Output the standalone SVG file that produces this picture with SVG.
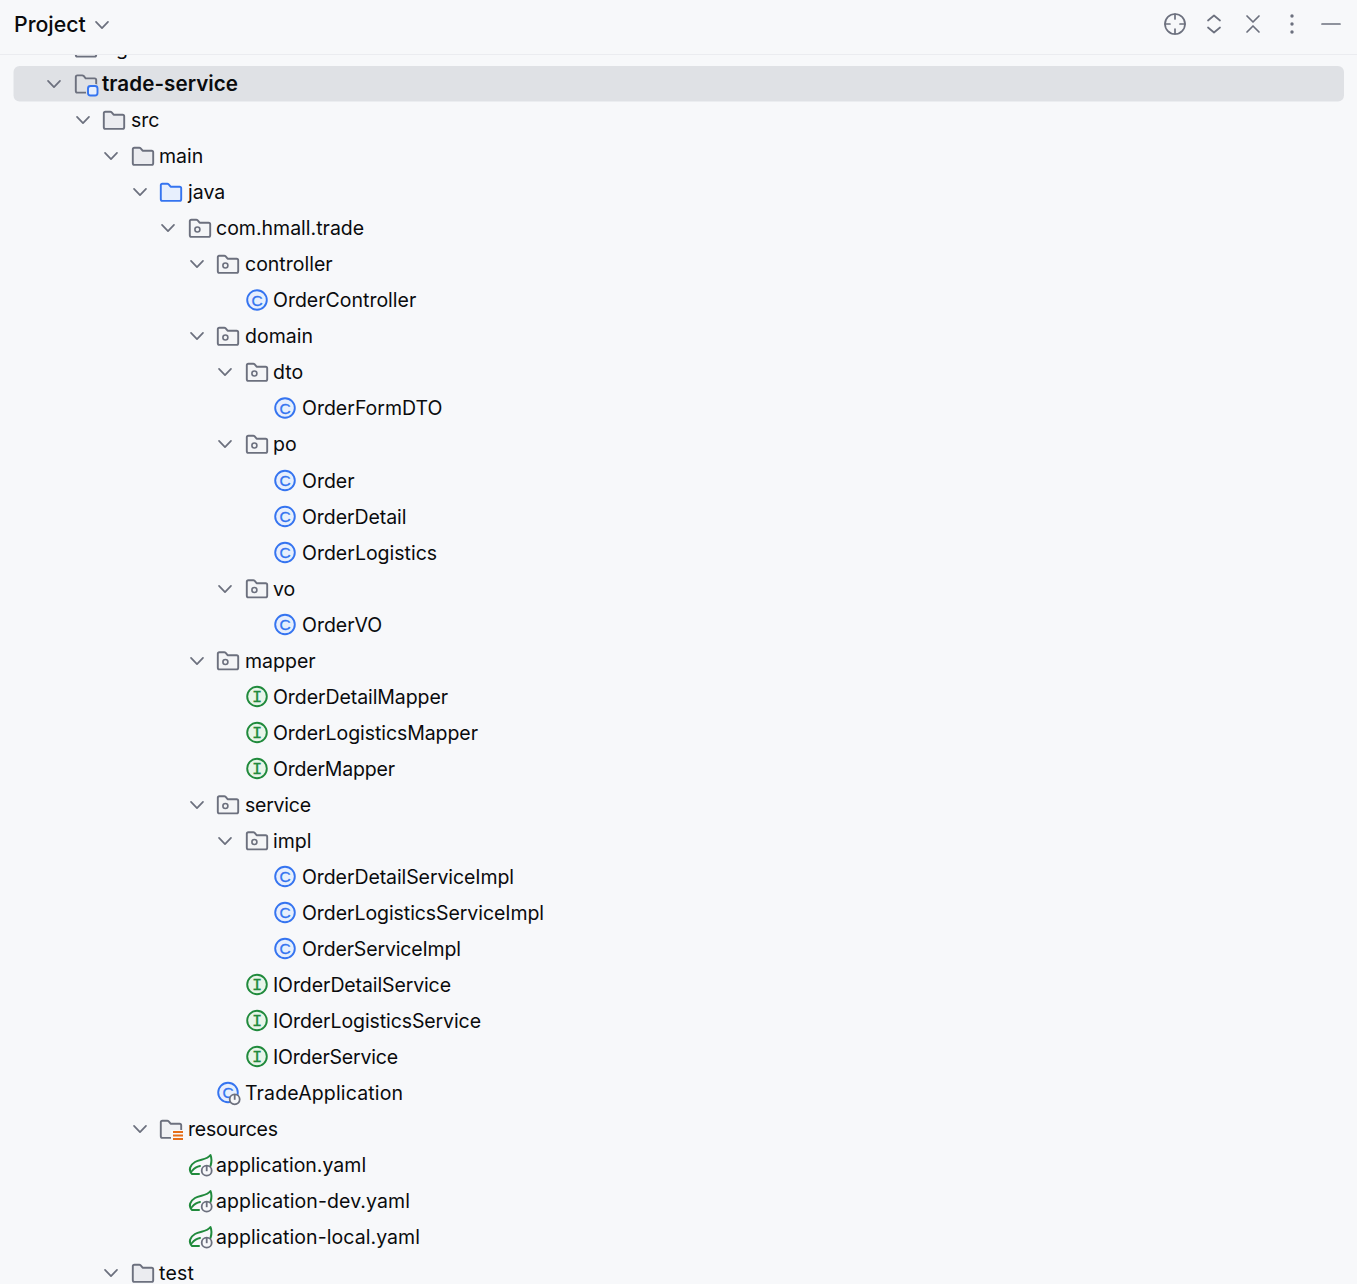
<svg xmlns="http://www.w3.org/2000/svg" xmlns:xlink="http://www.w3.org/1999/xlink" width="1357" height="1284" viewBox="0 0 1357 1284">
<style>
text{font-family:Inter,"Noto Sans","Liberation Sans",sans-serif;font-size:19.5px;fill:#0a0b0d;transform:translateY(1px)}
.ic{fill:none;stroke:#6c707e;stroke-width:1.7;stroke-linecap:round;stroke-linejoin:round}
.f{fill:#ebecf0;stroke:#6c707e;stroke-width:1.9;stroke-linejoin:round}
.b{font-family:"Liberation Sans",sans-serif;font-size:15.5px;text-anchor:middle;fill:#3574f0;stroke:#3574f0;stroke-width:.3}
.j{font-family:"Liberation Mono",monospace;font-size:17px;text-anchor:middle;fill:#208a3c;stroke:#208a3c;stroke-width:.3}
</style>
<defs>
<path id="fp" d="M-8.6,-8.6H-3.8Q-2.900,-8.600 -2.300,-8L-0.400,-5.600H8.600A1.600,1.600 0 0 1 10.200,-4V7A1.600,1.600 0 0 1 8.600,8.600H-8.600A1.600,1.600 0 0 1 -10.200,7V-7A1.600,1.600 0 0 1 -8.600,-8.600Z"/>
<path id="chev" class="ic" d="M-6,-3.2L0,3.2L6,-3.2"/>
<use id="folder" href="#fp" class="f"/>
<g id="pkg"><use href="#fp" fill="#f4f5f7" stroke="#6c707e" stroke-width="1.9" stroke-linejoin="round"/><circle cx="-2.6" cy="1.2" r="2.5" fill="none" stroke="#6c707e" stroke-width="1.6"/></g>
<g id="cls"><circle r="9.8" fill="#e7effd" stroke="#3574f0" stroke-width="1.9"/></g>
<g id="ifc"><circle r="9.8" fill="#e8f5e9" stroke="#208a3c" stroke-width="1.9"/></g>
<g id="pwr"><circle r="5" fill="#f7f8fa" stroke="#6c707e" stroke-width="1.8"/><path d="M0,-5V0.5" stroke="#6c707e" stroke-width="1.8"/></g>
<g id="spring"><path d="M-8,9C-12,5 -10,0 -5,-3C0,-6 7,-5 10.500,-10C12.500,-5 11,-1 10.500,1M-8,9H-1M-8,6C-6,3.500 -3,1.500 0,1" fill="none" stroke="#208a3c" stroke-width="2" stroke-linejoin="round" stroke-linecap="round"/><use href="#pwr" x="6.700" y="5.700"/></g>
</defs>
<rect width="1357" height="1284" fill="#f7f8fa"/>
<g id="scrolled-row"><use href="#folder" x="86" y="48"/><text x="116" y="54">g</text></g>
<g id="header">
<rect width="1357" height="54" fill="#f7f8fa"/>
<path d="M0,54.500H1357" stroke="#ebecf0" stroke-width="1"/>
<text x="14" y="30.500" style="font-weight:500;font-size:21.300px">Project</text>
<use href="#chev" x="102" y="25"/>
<g id="tb-locate" class="ic"><circle cx="1175" cy="24" r="10"/><path d="M1175,14V19M1175,29V34M1165,24H1170M1180,24H1185"/></g>
<path id="tb-expand" class="ic" d="M1208,20.500L1214,15.500L1220,20.500M1208,27.500L1214,32.500L1220,27.500"/>
<path id="tb-collapse" class="ic" d="M1247,16L1253,22L1259,16M1247,32L1253,26L1259,32"/>
<g id="tb-more" fill="#6c707e"><circle cx="1292" cy="16" r="1.700"/><circle cx="1292" cy="24" r="1.700"/><circle cx="1292" cy="32" r="1.700"/></g>
<path id="tb-min" class="ic" d="M1322,24H1340"/>
</g>
<rect id="selection" x="13.500" y="66" width="1330.500" height="35.500" rx="6" fill="#dfe1e5"/>
<g id="tree">
<g id="trade-service"><use href="#chev" x="54" y="84"/><use href="#fp" x="86" y="84" fill="none" stroke="#6c707e" stroke-width="1.9"/><rect x="88" y="86" width="9.500" height="9.500" rx="2.500" fill="#dfe1e5" stroke="#dfe1e5" stroke-width="4"/><rect x="88" y="86" width="9.500" height="9.500" rx="2.500" fill="#e7effd" stroke="#3574f0" stroke-width="1.900"/><text x="102" y="90.400" style="font-weight:600;font-size:20.600px" textLength="136">trade-service</text></g>
<g id="src"><use href="#chev" x="83" y="120"/><use href="#folder" x="114" y="120.300"/><text x="131" y="126">src</text></g>
<g id="main"><use href="#chev" x="111" y="156"/><use href="#folder" x="143" y="156.300"/><text x="159" y="162">main</text></g>
<g id="java"><use href="#chev" x="140" y="192"/><use href="#fp" x="171" y="192.300" fill="#e7effd" stroke="#3574f0" stroke-width="1.9" stroke-linejoin="round"/><text x="188" y="198">java</text></g>
<g id="com-hmall-trade"><use href="#chev" x="168" y="228"/><use href="#pkg" x="200" y="228.300"/><text x="216" y="234">com.hmall.trade</text></g>
<g id="controller"><use href="#chev" x="197" y="264"/><use href="#pkg" x="228" y="264.300"/><text x="245" y="270">controller</text></g>
<g id="OrderController"><use href="#cls" x="257" y="300"/><text class="b" x="257" y="304.500">C</text><text x="273" y="306">OrderController</text></g>
<g id="domain"><use href="#chev" x="197" y="336"/><use href="#pkg" x="228" y="336.300"/><text x="245" y="342">domain</text></g>
<g id="dto"><use href="#chev" x="225" y="372"/><use href="#pkg" x="257" y="372.300"/><text x="273" y="378">dto</text></g>
<g id="OrderFormDTO"><use href="#cls" x="285" y="408"/><text class="b" x="285" y="412.500">C</text><text x="302" y="414">OrderFormDTO</text></g>
<g id="po"><use href="#chev" x="225" y="444"/><use href="#pkg" x="257" y="444.300"/><text x="273" y="450">po</text></g>
<g id="Order"><use href="#cls" x="285" y="480.500"/><text class="b" x="285" y="485">C</text><text x="302" y="487">Order</text></g>
<g id="OrderDetail"><use href="#cls" x="285" y="516.500"/><text class="b" x="285" y="521">C</text><text x="302" y="523" textLength="104.500">OrderDetail</text></g>
<g id="OrderLogistics"><use href="#cls" x="285" y="552.500"/><text class="b" x="285" y="557">C</text><text x="302" y="559">OrderLogistics</text></g>
<g id="vo"><use href="#chev" x="225" y="589"/><use href="#pkg" x="257" y="588.800"/><text x="273" y="595">vo</text></g>
<g id="OrderVO"><use href="#cls" x="285" y="624.500"/><text class="b" x="285" y="629">C</text><text x="302" y="631">OrderVO</text></g>
<g id="mapper"><use href="#chev" x="197" y="661"/><use href="#pkg" x="228" y="660.800"/><text x="245" y="667">mapper</text></g>
<g id="OrderDetailMapper"><use href="#ifc" x="257" y="696.500"/><text class="j" x="257" y="701">I</text><text x="273" y="703" textLength="175">OrderDetailMapper</text></g>
<g id="OrderLogisticsMapper"><use href="#ifc" x="257" y="732.500"/><text class="j" x="257" y="737">I</text><text x="273" y="739" textLength="205">OrderLogisticsMapper</text></g>
<g id="OrderMapper"><use href="#ifc" x="257" y="768.500"/><text class="j" x="257" y="773">I</text><text x="273" y="775" textLength="122">OrderMapper</text></g>
<g id="service"><use href="#chev" x="197" y="805"/><use href="#pkg" x="228" y="804.800"/><text x="245" y="811" textLength="66">service</text></g>
<g id="impl"><use href="#chev" x="225" y="841"/><use href="#pkg" x="257" y="840.800"/><text x="273" y="847">impl</text></g>
<g id="OrderDetailServiceImpl"><use href="#cls" x="285" y="876.500"/><text class="b" x="285" y="881">C</text><text x="302" y="883" textLength="212">OrderDetailServiceImpl</text></g>
<g id="OrderLogisticsServiceImpl"><use href="#cls" x="285" y="912.500"/><text class="b" x="285" y="917">C</text><text x="302" y="919" textLength="242">OrderLogisticsServiceImpl</text></g>
<g id="OrderServiceImpl"><use href="#cls" x="285" y="948.500"/><text class="b" x="285" y="953">C</text><text x="302" y="955" textLength="159">OrderServiceImpl</text></g>
<g id="IOrderDetailService"><use href="#ifc" x="257" y="984.500"/><text class="j" x="257" y="989">I</text><text x="273" y="991" textLength="178">IOrderDetailService</text></g>
<g id="IOrderLogisticsService"><use href="#ifc" x="257" y="1020.500"/><text class="j" x="257" y="1025">I</text><text x="273" y="1027" textLength="208">IOrderLogisticsService</text></g>
<g id="IOrderService"><use href="#ifc" x="257" y="1056.500"/><text class="j" x="257" y="1061">I</text><text x="273" y="1063" textLength="125">IOrderService</text></g>
<g id="TradeApplication"><use href="#cls" x="228" y="1092.500"/><text class="b" x="228" y="1097">C</text><use href="#pwr" x="234.700" y="1099.300"/><text x="245" y="1099" textLength="158">TradeApplication</text></g>
<g id="resources"><use href="#chev" x="140" y="1129"/><use href="#fp" x="171" y="1129.300" fill="#f0f1f4" stroke="#6c707e" stroke-width="1.9" stroke-linejoin="round"/><rect x="171" y="1130" width="14" height="12" fill="#f7f8fa"/><path d="M173,1132H183M173,1135.500H183M173,1139H183" stroke="#e66d17" stroke-width="1.800"/><text x="188" y="1135" textLength="90">resources</text></g>
<g id="application-yaml"><use href="#spring" x="200" y="1165"/><text x="216" y="1171">application.yaml</text></g>
<g id="application-dev-yaml"><use href="#spring" x="200" y="1201"/><text x="216" y="1207" textLength="194">application-dev.yaml</text></g>
<g id="application-local-yaml"><use href="#spring" x="200" y="1237"/><text x="216" y="1243" textLength="204">application-local.yaml</text></g>
<g id="test"><use href="#chev" x="111" y="1273"/><use href="#folder" x="143" y="1273.300"/><text x="159" y="1279" textLength="35">test</text></g>
</g>
</svg>
